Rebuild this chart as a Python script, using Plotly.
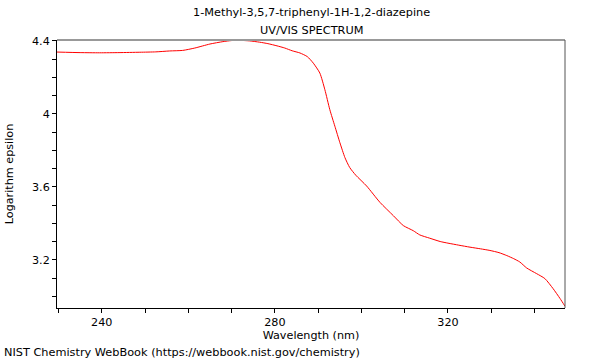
import plotly.graph_objects as go

wavelength = [229.66, 235.0, 239.5, 244.0, 248.8, 252.5, 255.7, 258.7, 261.5, 265.0, 268.0, 270.0, 272.0, 274.2,
              276.5, 278.4, 280.5, 282.3, 284.0, 285.8, 287.5, 288.9, 290.4, 291.56, 292.7, 293.87, 295.03,
              296.2, 297.3, 298.7, 301.2, 304.3, 307.4, 309.7, 312.0, 313.5, 315.8, 318.2, 320.0, 322.5,
              325.1, 327.5, 329.7, 331.8, 333.6, 335.2, 336.6, 338.2, 340.5, 342.4, 344.3, 345.9, 347.05]
log_eps = [4.338, 4.335, 4.334, 4.335, 4.337, 4.339, 4.344, 4.347, 4.36, 4.382, 4.395, 4.401, 4.402, 4.399,
           4.392, 4.384, 4.372, 4.36, 4.345, 4.333, 4.313, 4.277, 4.223, 4.132, 4.023, 3.932, 3.842,
           3.76, 3.706, 3.664, 3.605, 3.515, 3.442, 3.388, 3.36, 3.337, 3.319, 3.301, 3.292, 3.281,
           3.27, 3.261, 3.252, 3.24, 3.224, 3.207, 3.189, 3.156, 3.125, 3.098, 3.043, 2.989, 2.947]

x_ticks = [240, 280, 320]
y_ticks = [3.2, 3.6, 4.0, 4.4]
y_tick_labels = ["3.2", "3.6", "4", "4.4"]

title_lines = ["1-Methyl-3,5,7-triphenyl-1H-1,2-diazepine", "UV/VIS SPECTRUM"]
footer = "NIST Chemistry WebBook (https://webbook.nist.gov/chemistry)"

L, R, T, B = 57, 35, 40, 52
PW, PH = 600 - L - R, 360 - T - B

fig = go.Figure()
fig.add_trace(go.Scatter(x=wavelength, y=log_eps, mode="lines",
                         line=dict(color="#ff0000", width=1, shape="spline", smoothing=0.6),
                         hoverinfo="skip", showlegend=False))

font = dict(family="DejaVu Sans", size=11.2, color="#000000")
tfont = dict(family="DejaVu Sans", size=11.3, color="#000000")

fig.update_layout(
    width=600, height=360,
    margin=dict(l=L, r=R, t=T, b=B, autoexpand=False),
    paper_bgcolor="white", plot_bgcolor="white",
    font=font,
    xaxis=dict(range=[229.66, 347.05], tickvals=x_ticks, ticktext=[str(v) for v in x_ticks],
               ticks="outside", ticklen=4, tickcolor="#000", showline=True, linecolor="#000",
               linewidth=1, showgrid=False, zeroline=False,
               minor=dict(dtick=10, tick0=230, ticks="outside", ticklen=4, tickcolor="#000"),
               title=dict(text="Wavelength (nm)", standoff=0, font=font),
               tickfont=font),
    yaxis=dict(range=[2.937, 4.404], tickvals=y_ticks, ticktext=y_tick_labels,
               ticks="outside", ticklen=4, tickcolor="#000", showline=True, linecolor="#000",
               linewidth=1, showgrid=False, zeroline=False,
               minor=dict(dtick=0.1, tick0=3.0, ticks="outside", ticklen=4, tickcolor="#000"),
               title=dict(text="Logarithm epsilon", standoff=16, font=font),
               tickfont=font),
)

fig.add_shape(type="line", xref="paper", yref="paper", x0=0, x1=1, y0=1, y1=1,
              line=dict(color="#999999", width=2))
fig.add_shape(type="line", xref="paper", yref="paper", x0=1, x1=1, y0=0, y1=1,
              line=dict(color="#555555", width=1))

for text, ypix in zip(title_lines, [13, 30]):
    fig.add_annotation(text=text, xref="paper", yref="paper", x=0.5, y=(T + PH - ypix) / PH,
                       xanchor="center", yanchor="middle", showarrow=False, font=tfont)

fig.add_annotation(text=footer, xref="paper", yref="paper", x=(2 - L) / PW, y=(T + PH - 352) / PH,
                   xanchor="left", yanchor="middle", showarrow=False, font=tfont)

fig.write_html("out.html", config={"displayModeBar": False},
               post_script="document.body.style.margin='0';document.body.style.overflow='hidden';")
